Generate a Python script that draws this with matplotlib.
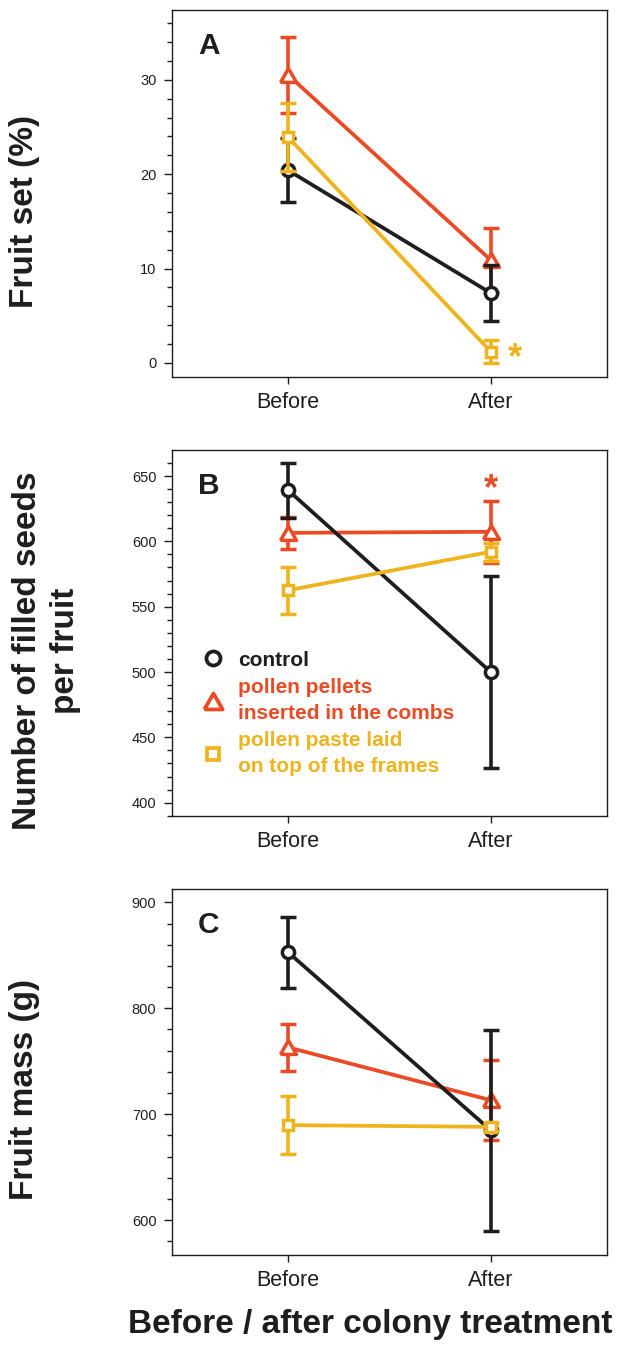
import matplotlib
matplotlib.use("Agg")
import matplotlib.pyplot as plt
from matplotlib.ticker import MultipleLocator, FixedLocator
from matplotlib.lines import Line2D

plt.rcParams['font.family'] = ['Liberation Sans', 'DejaVu Sans']

# ---------------- data ----------------
periods = ["Before", "After"]
groups = ["control", "pollen pellets\ninserted in the combs", "pollen paste laid\non top of the frames"]

fruitset_control = [20.4, 7.4]
fruitset_control_err = [3.4, 3.0]
fruitset_pellets = [30.5, 10.9]
fruitset_pellets_err = [4.0, 3.4]
fruitset_paste = [23.9, 1.2]
fruitset_paste_err = [3.6, 1.2]

seeds_control = [639, 500]
seeds_control_err = [21, 73.5]
seeds_pellets = [606.5, 607.3]
seeds_pellets_err = [12.5, 23.7]
seeds_paste = [562.6, 592]
seeds_paste_err = [18, 7]

mass_control = [852.7, 684.8]
mass_control_err = [33.4, 95]
mass_pellets = [763, 713.2]
mass_pellets_err = [22.3, 37.8]
mass_paste = [689.6, 688]
mass_paste_err = [27.1, 4]

panel_letters = ["A", "B", "C"]
ylabels = ["Fruit set (%)", "Number of filled seeds\nper fruit", "Fruit mass (g)"]
xlabel = "Before / after colony treatment"

# ---------------- style ----------------
BLACK = "#1f1d1e"
RED = "#ea4a24"
YELLOW = "#eeb31d"
colors = [BLACK, RED, YELLOW]
TRI = [(-1, -0.866), (1, -0.866), (0, 0.866), (-1, -0.866)]
markers = ["o", TRI, "s"]
msizes = [8.8, 11.5, 7.6]

W, H = 617, 1357
fig = plt.figure(figsize=(W / 100, H / 100), dpi=100)

def frac_box(left, top, right, bottom):
    return [left / W, 1 - bottom / H, (right - left) / W, (bottom - top) / H]

boxes = [frac_box(171.7, 10, 607.3, 377),
         frac_box(171.7, 450, 607.3, 816),
         frac_box(171.7, 889, 607.3, 1255)]
ylims = [(-1.5, 37.4), (389.8, 669.9), (567, 912.6)]
majors = [[0, 10, 20, 30], [400, 450, 500, 550, 600, 650], [600, 700, 800, 900]]
minors = [2, 10, 20]

datasets = [
    [(fruitset_control, fruitset_control_err), (fruitset_pellets, fruitset_pellets_err), (fruitset_paste, fruitset_paste_err)],
    [(seeds_control, seeds_control_err), (seeds_pellets, seeds_pellets_err), (seeds_paste, seeds_paste_err)],
    [(mass_control, mass_control_err), (mass_pellets, mass_pellets_err), (mass_paste, mass_paste_err)],
]

xpos = [1, 2]
draw_order = [1, 0, 2]
axes = []
for i in range(3):
    ax = fig.add_axes(boxes[i])
    axes.append(ax)
    for z, g in enumerate(draw_order):
        mean, err = datasets[i][g]
        ax.errorbar(xpos, mean, yerr=err, color=colors[g], lw=2.7, elinewidth=2.6,
                    capsize=6, capthick=2.6, marker=markers[g], ms=msizes[g],
                    mfc="white", mec=colors[g], mew=2.5, zorder=3 + z)
    ax.set_xlim(0.424, 2.576)
    ax.set_ylim(*ylims[i])
    ax.xaxis.set_major_locator(FixedLocator(xpos))
    ax.set_xticklabels(periods, fontsize=15.5)
    ax.yaxis.set_major_locator(FixedLocator(majors[i]))
    ax.yaxis.set_minor_locator(MultipleLocator(minors[i]))
    ax.tick_params(axis='y', which='major', length=6, width=1, labelsize=10.5, pad=5, color=BLACK, labelcolor=BLACK)
    ax.tick_params(axis='y', which='minor', length=3.5, width=1, color=BLACK)
    ax.tick_params(axis='x', which='major', length=5, width=1, pad=6, color=BLACK, labelcolor=BLACK)
    for sp in ax.spines.values():
        sp.set_linewidth(1.0)
        sp.set_color(BLACK)
    ax.text(0.06, 0.94, panel_letters[i], transform=ax.transAxes, fontsize=21.5,
            fontweight='bold', color=BLACK, ha='left', va='top')

# significance asterisks
axes[0].text(2.118, 0.45, "*", color=YELLOW, fontsize=26, fontweight='bold', ha='center', va='center')
axes[1].text(2.0, 639.5, "*", color=RED, fontsize=26, fontweight='bold', ha='center', va='center')

# legend in panel B
handles = [Line2D([], [], ls='none', marker=markers[g], ms=msizes[g] * 1.15, mfc='white',
                  mec=colors[g], mew=2.7) for g in range(3)]
leg = axes[1].legend(handles, groups, loc='upper left', bbox_to_anchor=(0.07, 0.452),
                     frameon=False, borderpad=0, borderaxespad=0, handlelength=1.0,
                     handletextpad=0.72, labelspacing=0.42, labelcolor='markeredgecolor',
                     prop={'weight': 'bold', 'size': 15})
for t in leg.get_texts():
    t.set_linespacing(1.42)

# axis labels
lab_kw = dict(fontsize=24, fontweight='bold', color=BLACK, rotation=90, ha='center', va='center')
fig.text(24 / W, 1 - 211 / H, ylabels[0], **lab_kw)
fig.text(46.5 / W, 1 - 651 / H, ylabels[1], linespacing=1.33, multialignment='center', **lab_kw)
fig.text(24 / W, 1 - 1090 / H, ylabels[2], **lab_kw)
fig.text(370.5 / W, 1 - 1333 / H, xlabel, fontsize=24, fontweight='bold', color=BLACK,
         ha='center', va='baseline')

fig.savefig("out.png", dpi=100)
